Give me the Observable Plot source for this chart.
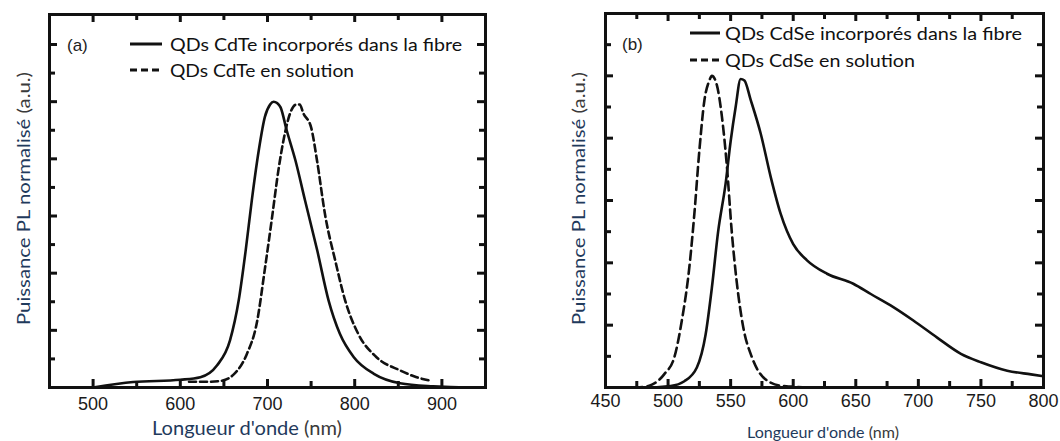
<!DOCTYPE html>
<html><head><meta charset="utf-8">
<script src="https://cdn.jsdelivr.net/npm/d3@7"></script>
<script src="https://cdn.jsdelivr.net/npm/@observablehq/plot@0.6"></script>
<style>
body{margin:0;background:#fff;width:1060px;height:441px;position:relative;overflow:hidden}
.panel{position:absolute;top:0}
</style></head><body>
<div id="pa" class="panel" style="left:0"></div>
<div id="pb" class="panel" style="left:556px"></div>
<script>
// ---- Panel (a): CdTe ----
const cdteFibreNm = [500,546,600,623,642,657,667,675,682,690,697,703,707,711,715,722,732,743,757,770,783,799,822,852,890,929,940];
const cdteFibrePL = [0,0.019,0.027,0.036,0.077,0.165,0.305,0.48,0.655,0.83,0.947,0.99,1.0,0.995,0.98,0.90,0.795,0.655,0.48,0.305,0.188,0.106,0.048,0.015,0.004,0,0];
const cdteSolNm = [610,630,646,661,676,688,697,705,713,720,726,733,737,741,750,757,766,778,789,804,825,852,871,888];
const cdteSolPL = [0.02,0.02,0.023,0.045,0.115,0.23,0.415,0.59,0.77,0.89,0.96,0.99,0.99,0.96,0.91,0.79,0.605,0.44,0.305,0.188,0.106,0.06,0.036,0.023];
const xTicksA = [500,600,700,800,900];
const xMinorA = [550,650,750,850];
// ---- Panel (b): CdSe ----
const cdseFibreNm = [450,480,502,513,523,530,535,540,546,550,554,558,561,566,574,582,590,600,611,627,648,662,680,696,715,734,750,771,790,800];
const cdseFibrePL = [0,0,0.005,0.02,0.064,0.17,0.32,0.50,0.655,0.79,0.90,0.99,0.985,0.923,0.815,0.676,0.557,0.46,0.408,0.365,0.333,0.30,0.258,0.215,0.16,0.108,0.081,0.054,0.042,0.036];
const cdseSolNm = [450,475,485,497,505,511,517,521,525,529,533,535,539,543,547,551,555,560,567,576,590,620,700,800];
const cdseSolPL = [0,0,0.006,0.043,0.097,0.215,0.386,0.557,0.76,0.92,0.985,1.0,0.97,0.87,0.71,0.495,0.334,0.195,0.097,0.033,0.006,0,0,0];
const xTicksB = [450,500,550,600,650,700,750,800];
const xMinorB = [475,525,575,625,675,725,775];
const yMajor = [0.2,0.4,0.6,0.8,1.0,1.2];
const yMinor = [0.1,0.3,0.5,0.7,0.9,1.1];

const toRows = (xs, ys) => xs.map((nm, i) => ({nm, pl: ys[i]}));

function panel(o) {
  const iw = o.w - o.ml - o.mr, ih = o.h - o.mt - o.mb;
  const sw = 3;
  const xt = (arr, len) => [
    Plot.ruleX(arr, {insetTop: ih - len, stroke: "#111", strokeWidth: sw}),
    Plot.ruleX(arr, {insetBottom: ih - len, stroke: "#111", strokeWidth: sw})
  ];
  const yt = (arr, len) => [
    Plot.ruleY(arr.filter(v => v < o.yd[1]), {insetRight: iw - len, stroke: "#111", strokeWidth: sw}),
    Plot.ruleY(arr.filter(v => v < o.yd[1]), {insetLeft: iw - len, stroke: "#111", strokeWidth: sw})
  ];
  return Plot.plot({
    width: o.w, height: o.h,
    marginLeft: o.ml, marginRight: o.mr, marginTop: o.mt, marginBottom: o.mb,
    x: {domain: o.xd},
    y: {domain: o.yd, axis: null},
    style: {fontFamily: "'Liberation Sans', Arial, sans-serif", fontSize: "18px", color: "#1a1a1a", background: "transparent", overflow: "visible"},
    marks: [
      ...o.series.map(s => Plot.line(s.data, {x: "nm", y: "pl", curve: "monotone-x", stroke: "#111", strokeWidth: 2.6, strokeDasharray: s.dash})),
      ...xt(o.xMaj, 8), ...xt(o.xMin, 6),
      ...yt(yMajor, 8), ...yt(yMinor, 6),
      Plot.axisX(o.xLab, {tickSize: 0, tickPadding: o.pad, label: null, fontSize: 18, fill: "#1a1a1a"}),
      Plot.frame({stroke: "#111", strokeWidth: 3})
    ]
  });
}

document.getElementById("pa").append(panel({
  w: 500, h: 441, ml: 49, mr: 15, mt: 14, mb: 54,
  xd: [450, 950], yd: [0, 1.305],
  xMaj: xTicksA, xMin: xMinorA, xLab: xTicksA, pad: 10,
  series: [
    {data: toRows(cdteFibreNm, cdteFibrePL), dash: null},
    {data: toRows(cdteSolNm, cdteSolPL), dash: "7,4"}
  ]
}));
document.getElementById("pb").append(panel({
  w: 504, h: 441, ml: 49, mr: 17, mt: 13, mb: 54,
  xd: [450, 800], yd: [0, 1.2],
  xMaj: xTicksB.slice(1, -1), xMin: xMinorB, xLab: xTicksB, pad: 7,
  series: [
    {data: toRows(cdseFibreNm, cdseFibrePL), dash: null},
    {data: toRows(cdseSolNm, cdseSolPL), dash: "9,5"}
  ]
}));

// ---- overlay texts & legends ----
const ov = d3.select("body").append("svg")
  .attr("width", 1060).attr("height", 441)
  .style("position", "absolute").style("left", 0).style("top", 0);
const titleCol = "#1f3a5c", unitCol = "#3a3a3a";
function txt(x, y, parts, {size, len, rot = false, family = "Lato, 'Open Sans', sans-serif"}) {
  const t = ov.append("text")
    .attr("font-family", family).attr("font-size", size)
    .attr("transform", rot ? `translate(${x},${y}) rotate(-90)` : `translate(${x},${y})`);
  if (len) t.attr("textLength", len).attr("lengthAdjust", "spacingAndGlyphs");
  parts.forEach(([s, c]) => t.append("tspan").attr("fill", c).text(s));
}
// axis titles
txt(152, 435, [["Longueur d'onde ", titleCol], ["(nm)", unitCol]], {size: 18.5, len: 190});
txt(747, 438, [["Longueur d'onde ", titleCol], ["(nm)", unitCol]], {size: 15, len: 152});
txt(30, 325, [["Puissance PL normalisé  ", titleCol], ["(a.u.)", unitCol]], {size: 18, len: 253, rot: true});
txt(585, 325, [["Puissance PL normalisé  ", titleCol], ["(a.u.)", unitCol]], {size: 18, len: 253, rot: true});
// panel letters
txt(67, 51, [["(a)", "#222"]], {size: 17, family: "'Liberation Sans', Arial, sans-serif"});
txt(622, 50, [["(b)", "#222"]], {size: 17, family: "'Liberation Sans', Arial, sans-serif"});
// legends
const legA = ["QDs CdTe incorporés dans la fibre", "QDs CdTe en solution"];
const legB = ["QDs CdSe incorporés dans la fibre", "QDs CdSe en solution"];
function legend(lx1, lx2, tx, rows, baselines, lens, dash) {
  rows.forEach((r, i) => {
    ov.append("line").attr("x1", lx1).attr("x2", lx2)
      .attr("y1", baselines[i] - 6.5).attr("y2", baselines[i] - 6.5)
      .attr("stroke", "#111").attr("stroke-width", 3)
      .attr("stroke-dasharray", i === 1 ? dash : null);
    txt(tx, baselines[i], [[r, "#111"]], {size: 18, len: lens[i]});
  });
}
legend(130, 162, 170, legA, [50.5, 76.5], [292, 184], "7,4");
legend(690, 720, 725, legB, [39.5, 66.5], [297, 190], "7,4");
</script>
</body></html>
